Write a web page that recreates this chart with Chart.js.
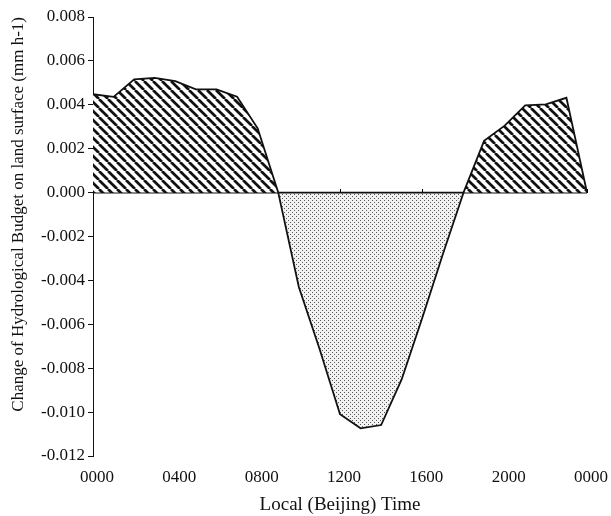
<!DOCTYPE html>
<html>
<head>
<meta charset="utf-8">
<script src="https://cdn.jsdelivr.net/npm/chart.js@4/dist/chart.umd.min.js"></script>
<style>
  html, body { margin: 0; padding: 0; background: #fff; }
  #wrap { width: 611px; height: 516px; }
</style>
</head>
<body>
<div id="wrap"><canvas id="c" width="611" height="516"></canvas></div>
<script>
// ---- data ----
const hours = [0,1,2,3,4,5,6,7,8,9,10,11,12,13,14,15,16,17,18,19,20,21,22,23,24];
const surplusValues = [0.00448,0.00436,0.00516,0.00523,0.00508,0.00470,0.00470,0.00437,0.00293,0,
                       0,0,0,0,0,0,0,0,0,
                       0.00236,0.00305,0.00397,0.00402,0.00432,0];
const deficitValues = [0,0,0,0,0,0,0,0,0,0,
                       -0.0043,-0.0071,-0.0101,-0.01074,-0.01059,-0.0085,-0.0057,-0.0028,0,
                       0,0,0,0,0,0];
const xTickLabels = ['0000','0400','0800','1200','1600','2000','0000'];
const yTitle = 'Change of Hydrological Budget on land surface (mm h-1)';
const xTitle = 'Local (Beijing) Time';

// ---- fill patterns ----
function hatchPattern() {
  const s = 9;
  const c = document.createElement('canvas');
  c.width = s; c.height = s;
  const g = c.getContext('2d');
  g.fillStyle = '#fff'; g.fillRect(0,0,s,s);
  g.strokeStyle = '#111'; g.lineWidth = 2.7;
  for (const x0 of [-s, 0, s]) {
    g.beginPath(); g.moveTo(x0, 0); g.lineTo(x0 + s, s); g.stroke();
  }
  return g.createPattern(c, 'repeat');
}
function dotPattern() {
  const c = document.createElement('canvas');
  c.width = 4; c.height = 4;
  const g = c.getContext('2d');
  g.fillStyle = '#f2f2f2'; g.fillRect(0,0,4,4);
  g.fillStyle = '#555';
  g.fillRect(0,0,1,1); g.fillRect(2,2,1,1);
  return g.createPattern(c, 'repeat');
}

const zeroTicks = {
  id: 'zeroTicks',
  beforeDatasetsDraw(chart) {
    const {ctx, scales: {x, y}} = chart;
    const y0 = Math.round(y.getPixelForValue(0));
    ctx.save();
    ctx.strokeStyle = '#000'; ctx.lineWidth = 1;
    x.ticks.forEach(t => {
      const px = Math.round(x.getPixelForValue(t.value)) + 0.5;
      ctx.beginPath(); ctx.moveTo(px, y0); ctx.lineTo(px, y0 - 4); ctx.stroke();
    });
    ctx.restore();
  }
};

const font = 'Liberation Serif';
new Chart(document.getElementById('c'), {
  type: 'line',
  data: {
    datasets: [
      {
        data: hours.map((h, i) => ({x: h, y: surplusValues[i]})),
        borderColor: '#111', borderWidth: 1.8, backgroundColor: hatchPattern(),
        fill: 'origin', pointRadius: 0, tension: 0
      },
      {
        data: hours.map((h, i) => ({x: h, y: deficitValues[i]})),
        borderColor: '#111', borderWidth: 1.8, backgroundColor: dotPattern(),
        fill: 'origin', pointRadius: 0, tension: 0
      }
    ]
  },
  options: {
    responsive: false,
    animation: false,
    layout: { padding: { left: 0, right: 24, top: 17, bottom: 0 } },
    plugins: { legend: { display: false }, tooltip: { enabled: false } },
    scales: {
      x: {
        type: 'linear', min: 0, max: 24,
        grid: { display: false, drawTicks: false },
        border: { display: false },
        ticks: {
          stepSize: 4, padding: 11, labelOffset: 4, maxRotation: 0,
          color: '#111', font: { family: font, size: 17 },
          callback: v => xTickLabels[Math.round(v / 4)]
        },
        title: { display: true, text: xTitle, color: '#111',
                 font: { family: font, size: 19 }, padding: { top: 4, bottom: 0 } },
        afterFit: s => { s.height = 60; s.paddingLeft = 0; s.paddingRight = 0; }
      },
      y: {
        min: -0.012, max: 0.008,
        grid: { drawOnChartArea: false, drawTicks: true, tickLength: 5, color: '#111' },
        border: { display: true, color: '#111', width: 1 },
        ticks: {
          stepSize: 0.002, padding: 3, color: '#111',
          font: { family: font, size: 17 },
          callback: v => Math.abs(v) < 1e-9 ? '0.000' : v.toFixed(3)
        },
        title: { display: true, text: yTitle, align: 'end', color: '#111',
                 font: { family: font, size: 17 }, padding: { top: 8, bottom: 0 } },
        afterFit: s => { s.width = 93; }
      }
    }
  },
  plugins: [zeroTicks]
});
</script>
</body>
</html>
